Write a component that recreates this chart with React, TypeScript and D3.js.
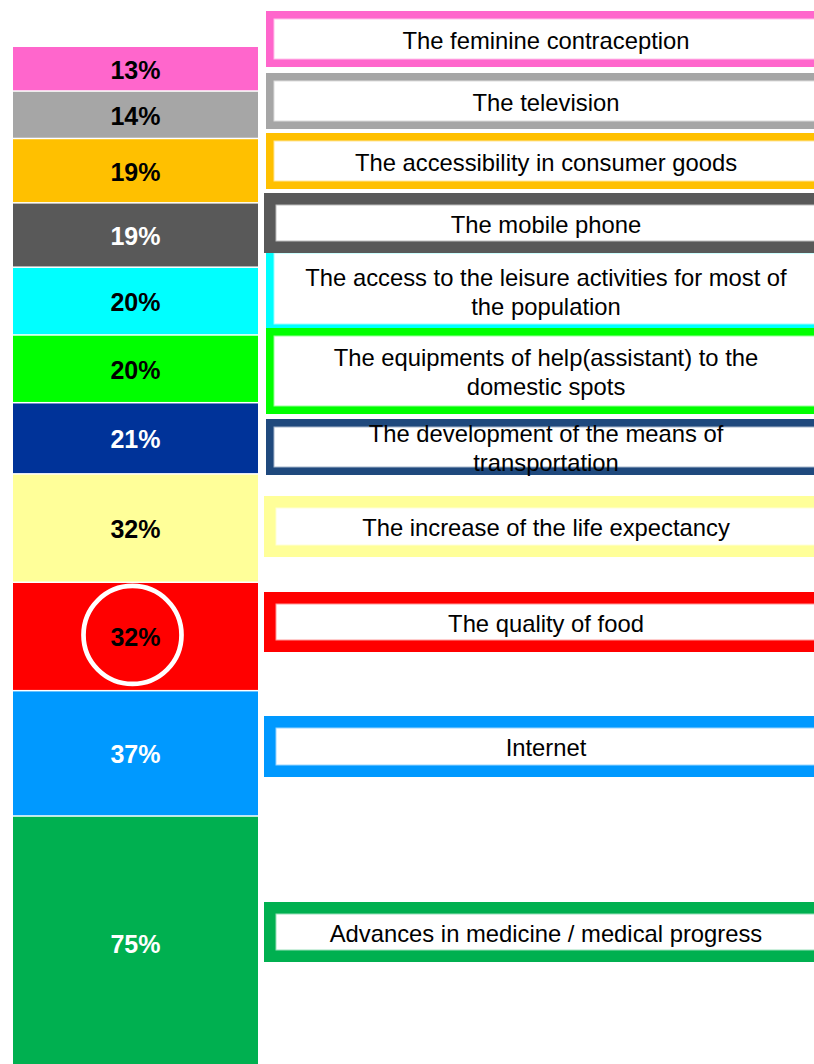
import React from "react";
import * as d3 from "d3";

// ---- data ----
const categories = [
  "The feminine contraception",
  "The television",
  "The accessibility in consumer goods",
  "The mobile phone",
  "The access to the leisure activities for most of\nthe population",
  "The equipments of help(assistant) to the\ndomestic spots",
  "The development of the means of\ntransportation",
  "The increase of the life expectancy",
  "The quality of food",
  "Internet",
  "Advances in medicine / medical progress",
];
const values = [13, 14, 19, 19, 20, 20, 21, 32, 32, 37, 75];
const valueLabels = ["13%", "14%", "19%", "19%", "20%", "20%", "21%", "32%", "32%", "37%", "75%"];
const highlightedIndex = 8;

// ---- styles ----
const segmentColors = [
  "#FF66CC", "#A6A6A6", "#FFC000", "#595959", "#00FFFF", "#00FF00",
  "#003399", "#FFFF99", "#FF0000", "#0099FF", "#00B050",
];
const boxColors = [
  "#FF66CC", "#A6A6A6", "#FFC000", "#595959", "#00FFFF", "#00FF00",
  "#1F497D", "#FFFF99", "#FF0000", "#0099FF", "#00B050",
];
const labelColors = [
  "#000", "#000", "#000", "#fff", "#000", "#000",
  "#fff", "#000", "#000", "#fff", "#fff",
];

// ---- layout of the label boxes (outer top, outer bottom, border width, left) ----
const boxLayout = [
  { top: 11, bottom: 67, border: 8, left: 266 },
  { top: 73, bottom: 129, border: 8, left: 266 },
  { top: 133, bottom: 189, border: 8, left: 266 },
  { top: 193, bottom: 253, border: 12, left: 264 },
  { top: 245, bottom: 332, border: 8, left: 266, textCenter: 290.5 },
  { top: 328, bottom: 414, border: 8, left: 266 },
  { top: 419, bottom: 475, border: 8, left: 266 },
  { top: 496, bottom: 557, border: 12, left: 264 },
  { top: 592, bottom: 652, border: 12, left: 264 },
  { top: 716, bottom: 777, border: 12, left: 264 },
  { top: 902, bottom: 962, border: 12, left: 264 },
];
const drawOrder = [4, 0, 1, 2, 3, 5, 6, 7, 8, 9, 10];

const W = 814;
const H = 1064;
const barX0 = 13;
const barX1 = 258;
const barTop = 47;
const pxPerUnit = 3.3877;
const boxRight = 828;
const textCenterX = 546;
const font = "'Liberation Sans', Arial, Helvetica, sans-serif";
const textSize = 23.8;
const lineHeight = 29;

export default function App() {
  const total = d3.sum(values);
  const y = d3.scaleLinear().domain([0, total]).range([barTop, barTop + total * pxPerUnit]);
  const starts = d3.cumsum([0, ...values]);
  const gap = 1.5;

  const segs = values.map((v, i) => {
    const y0 = y(starts[i]);
    const y1 = y(starts[i] + v);
    return { i, y0, y1, cy: (y0 + y1) / 2 };
  });

  return (
    <svg
      width={W}
      height={H}
      viewBox={`0 0 ${W} ${H}`}
      style={{ position: "absolute", left: 0, top: 0, background: "#fff" }}
    >
      {/* stacked bar */}
      {segs.map((s) => (
        <rect
          key={`seg${s.i}`}
          x={barX0}
          y={s.y0 + (s.i === 0 ? 0 : gap / 2)}
          width={barX1 - barX0}
          height={s.y1 - s.y0 - (s.i === 0 ? gap / 2 : gap)}
          fill={segmentColors[s.i]}
        />
      ))}
      {segs.map((s) => (
        <text
          key={`lab${s.i}`}
          x={(barX0 + barX1) / 2}
          y={s.cy + 1}
          dy="0.36em"
          textAnchor="middle"
          fontFamily={font}
          fontWeight="bold"
          fontSize={25}
          fill={labelColors[s.i]}
        >
          {valueLabels[s.i]}
        </text>
      ))}
      {/* highlight circle */}
      <circle
        cx={132.5}
        cy={segs[highlightedIndex].cy - 1.5}
        r={49}
        fill="none"
        stroke="#fff"
        strokeWidth={4.7}
      />

      {/* label boxes */}
      {drawOrder.map((i) => {
        const b = boxLayout[i];
        const innerTop = b.top + b.border;
        const innerBottom = b.bottom - b.border;
        const innerLeft = b.left + b.border;
        const center = b.textCenter ?? (innerTop + innerBottom) / 2;
        const lines = categories[i].split("\n");
        const firstY = center - ((lines.length - 1) * lineHeight) / 2;
        return (
          <g key={`box${i}`}>
            <rect
              x={b.left}
              y={b.top}
              width={boxRight - b.left}
              height={b.bottom - b.top}
              fill={boxColors[i]}
            />
            <rect
              x={innerLeft}
              y={innerTop}
              width={boxRight - b.border - innerLeft}
              height={innerBottom - innerTop}
              fill="#fff"
              stroke={d3.interpolateRgb(boxColors[i], "#fff")(0.6)}
              strokeWidth={1}
            />
            {lines.map((ln, k) => (
              <text
                key={k}
                x={textCenterX}
                y={firstY + k * lineHeight + 1}
                dy="0.36em"
                textAnchor="middle"
                fontFamily={font}
                fontSize={textSize}
                fill="#000"
              >
                {ln}
              </text>
            ))}
          </g>
        );
      })}
    </svg>
  );
}
